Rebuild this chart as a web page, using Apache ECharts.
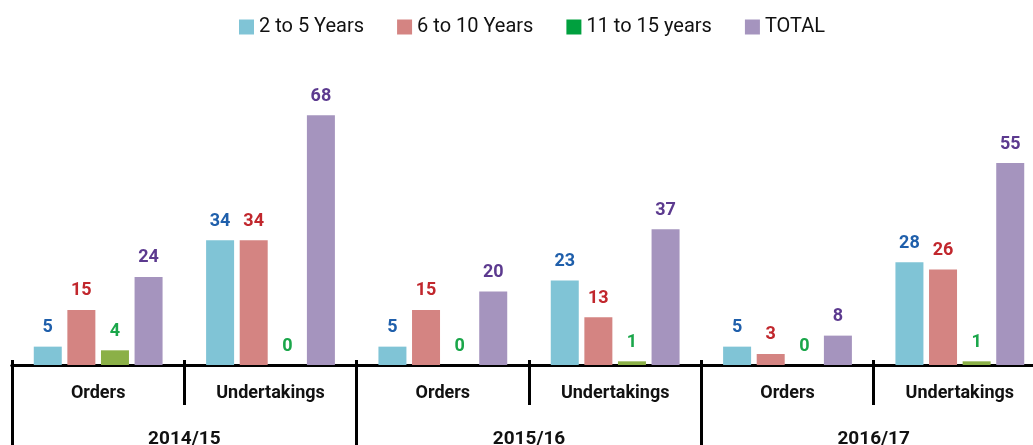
<!DOCTYPE html>
<html><head><meta charset="utf-8">
<script src="https://cdn.jsdelivr.net/npm/echarts@6/dist/echarts.min.js"></script>
<style>html,body{margin:0;padding:0;background:#fff}#c{width:1033px;height:445px}</style>
</head><body><div id="c"></div>
<script>
const categories = ['Orders','Undertakings','Orders','Undertakings','Orders','Undertakings'];
const years = ['2014/15','2015/16','2016/17'];
const s2to5 = [5,34,5,23,5,28];
const s6to10 = [15,34,15,13,3,26];
const s11to15 = [4,0,0,1,0,1];
const sTotal = [24,68,20,37,8,55];
const names = ['2 to 5 Years','6 to 10 Years','11 to 15 years','TOTAL'];
const barColors = ['#80c4d6','#d48482','#8bb047','#a594be'];
const legendColors = ['#80c4d6','#d48482','#00a03e','#a594be'];
const labelColors = ['#1f5fab','#c1272d','#1aa64a','#5c3a8f'];
const values = [s2to5,s6to10,s11to15,sTotal];
const font = 'Roboto, "Liberation Sans", sans-serif';
const chart = echarts.init(document.getElementById('c'));
chart.setOption({
  animation:false,
  legend:{top:12,left:234,itemWidth:15,itemHeight:15,itemGap:33,icon:'rect',
    textStyle:{fontFamily:font,fontSize:20,color:'#111'},
    data:names.map((n,i)=>({name:n,itemStyle:{color:legendColors[i]}}))},
  grid:{left:12,right:-13,top:108,bottom:80,outerBoundsMode:'none',containLabel:false},
  xAxis:[
    {type:'category',data:categories,position:'bottom',
     axisLine:{show:true,lineStyle:{color:'#000',width:3}},
     axisTick:{show:true,interval:0,length:40,lineStyle:{color:'#000',width:3}},
     axisLabel:{margin:19,fontFamily:font,fontSize:18,fontWeight:'bold',color:'#111'}},
    {type:'category',data:years,position:'bottom',
     axisLine:{show:true,lineStyle:{color:'#000',width:3}},
     axisTick:{show:true,interval:0,length:85,lineStyle:{color:'#000',width:3}},
     axisLabel:{margin:65,fontFamily:font,fontSize:19,fontWeight:'bold',color:'#111'}},
    {type:'category',data:categories,position:'bottom',
     axisLine:{show:false},
     axisTick:{show:true,inside:true,interval:0,length:5,lineStyle:{color:'#000',width:3}},
     axisLabel:{show:false}}
  ],
  yAxis:{type:'value',min:0,max:70,show:false,splitLine:{show:false}},
  series:values.map((v,i)=>({
    name:names[i],type:'bar',data:v,barWidth:28,barGap:'20%',xAxisIndex:0,
    itemStyle:{color:barColors[i]},
    label:{show:true,position:'top',distance:10,fontFamily:font,fontSize:18,fontWeight:'bold',color:labelColors[i]}
  }))
});
</script></body></html>
